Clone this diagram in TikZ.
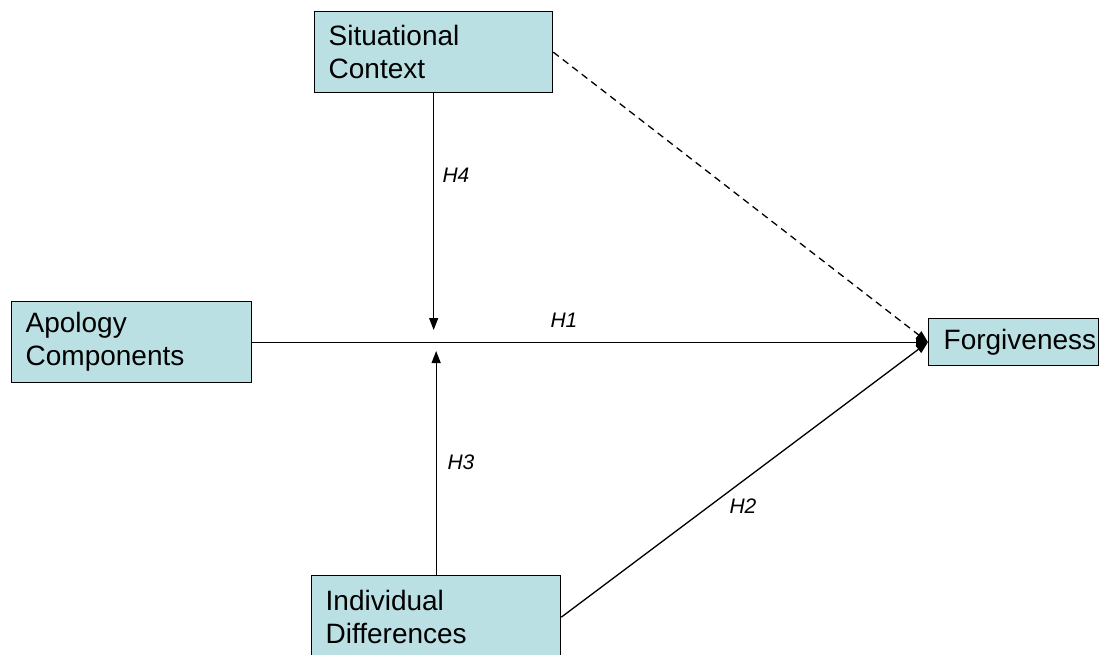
\documentclass[tikz,border=0pt]{standalone}
\usepackage{fontspec}
\setmainfont{Liberation Sans}
\usetikzlibrary{arrows.meta}
\definecolor{boxfill}{RGB}{187,224,227}
\begin{document}
\begin{tikzpicture}[x=1pt,y=-1pt,
  box/.style={draw=black, line width=1.3pt, fill=boxfill, align=left,
    font=\fontsize{28}{33}\selectfont, inner xsep=14pt, inner ysep=0pt, anchor=north west},
  lbl/.style={font=\fontsize{21}{24}\selectfont\itshape, inner sep=0pt},
  conn/.style={line width=1.3pt},
  arr/.style={conn, -{Triangle[width=9pt,length=12pt]}}]
\useasboundingbox (0,0) rectangle (1101,654);

\node[box, text width=210pt, minimum height=81pt] (sit) at (314,11) {Situational\\Context};
\node[box, text width=212pt, minimum height=81pt] (apo) at (11,301) {Apology\\Components};
\node[box, text width=140pt, minimum height=47pt, inner xsep=15pt] (forg) at (928,318) {Forgiveness};
\node[box, text width=221pt, minimum height=83pt] (ind) at (311,575) {Individual\\Differences};

\coordinate (h4end) at (434,330);
\coordinate (h3end) at (435,351);

\draw[arr] (sit.south) -- (sit.south |- h4end);
\draw[arr] (ind.north) -- (ind.north |- h3end);
\draw[arr] (apo.east) -- (forg.west);
\draw[arr, dash pattern=on 7pt off 5pt] (sit.east) -- (forg.west);
\draw[arr] (ind.east) -- (forg.west);

\node[lbl] (l4) at (456,175) {H4};
\node[lbl] (l1) at (564,320) {H1};
\node[lbl] (l3) at (461,462) {H3};
\node[lbl] (l2) at (743,506) {H2};
\end{tikzpicture}
\end{document}
